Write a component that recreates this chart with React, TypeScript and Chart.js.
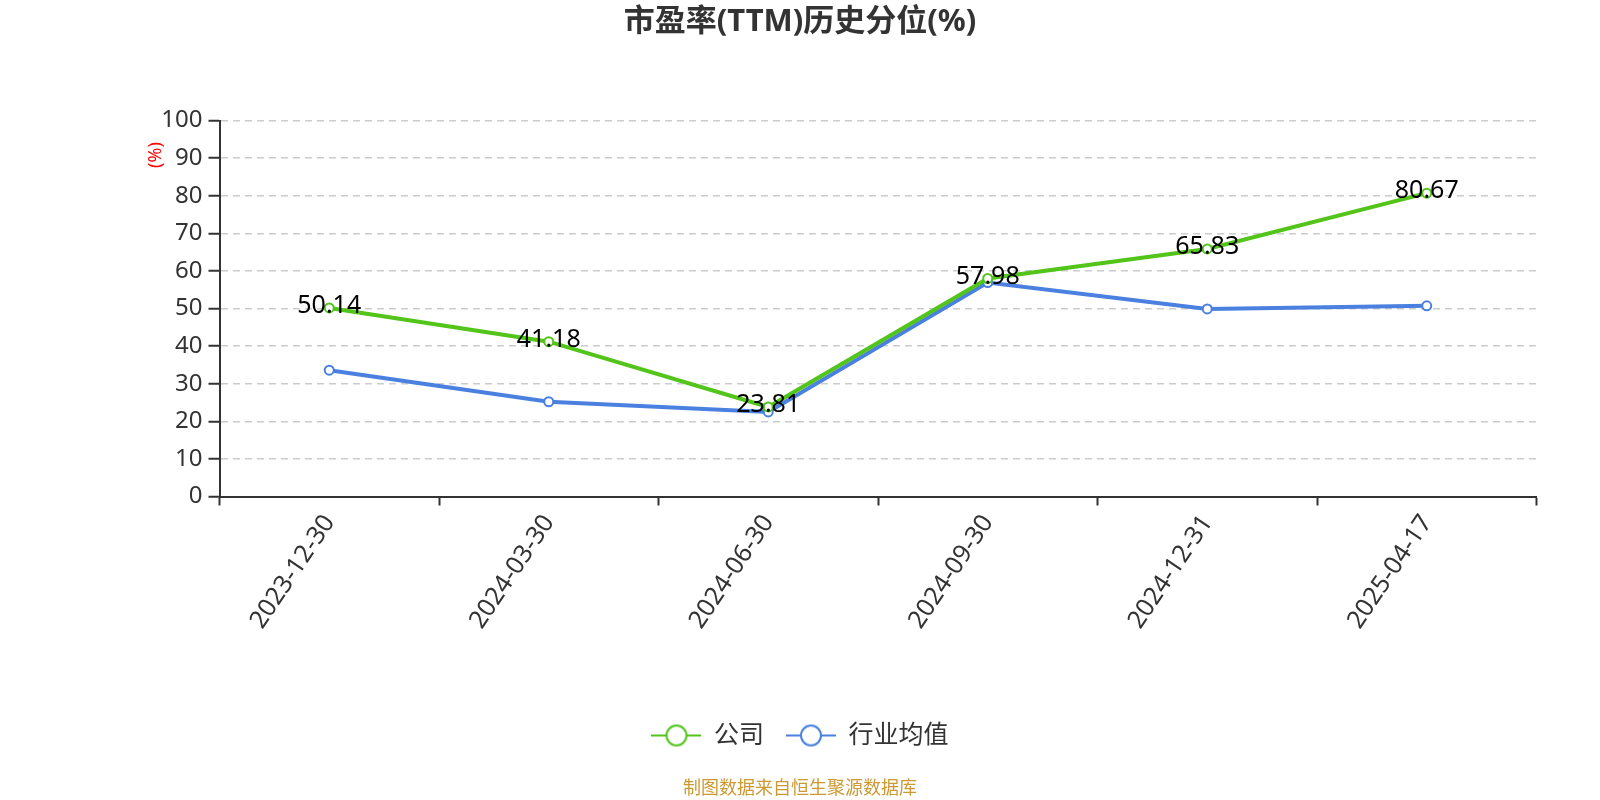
import React, { useEffect, useRef } from "react";
import { Chart, registerables } from "chart.js";

Chart.register(...registerables);

const categories = ["2023-12-30", "2024-03-30", "2024-06-30", "2024-09-30", "2024-12-31", "2025-04-17"];
const companyValues = [50.14, 41.18, 23.81, 57.98, 65.83, 80.67];
const industryValues = [33.6, 25.2, 22.5, 56.9, 49.9, 50.7];
const seriesNames = ["公司", "行业均值"];
const titleText = "市盈率(TTM)历史分位(%)";
const yAxisTitle = "(%)";
const sourceText = "制图数据来自恒生聚源数据库";

const GREEN = "#52C41A";
const BLUE = "#4A80E0";
const FONT = "'Noto Sans', 'Noto Sans CJK SC', sans-serif";

function legendIcon(color: string): HTMLCanvasElement {
  const c = document.createElement("canvas");
  c.width = 50;
  c.height = 26;
  const ctx = c.getContext("2d")!;
  ctx.strokeStyle = color;
  ctx.lineWidth = 2;
  ctx.beginPath();
  ctx.moveTo(0, 13);
  ctx.lineTo(50, 13);
  ctx.stroke();
  ctx.beginPath();
  ctx.arc(25, 13, 10, 0, Math.PI * 2);
  ctx.fillStyle = "#fff";
  ctx.fill();
  ctx.stroke();
  return c;
}

const labelPlugin = {
  id: "valueLabels",
  afterDatasetsDraw(chart: any) {
    const ctx = chart.ctx;
    const meta = chart.getDatasetMeta(0);
    ctx.save();
    ctx.font = `25px ${FONT}`;
    ctx.fillStyle = "#000";
    ctx.textAlign = "center";
    ctx.textBaseline = "middle";
    meta.data.forEach((pt: any, i: number) => {
      ctx.fillText(companyValues[i].toFixed(2), pt.x, pt.y - 2);
    });
    ctx.restore();
  },
};

const yTitlePlugin = {
  id: "yTitle",
  afterDraw(chart: any) {
    const ctx = chart.ctx;
    ctx.save();
    ctx.translate(156, 155);
    ctx.rotate(-Math.PI / 2);
    ctx.font = `18px ${FONT}`;
    ctx.fillStyle = "#ff0000";
    ctx.textAlign = "center";
    ctx.textBaseline = "middle";
    ctx.fillText(yAxisTitle, 0, 0);
    ctx.restore();
  },
};

export default function App() {
  const ref = useRef<HTMLCanvasElement>(null);
  useEffect(() => {
    document.body.style.margin = "0";
    document.body.style.overflow = "hidden";
    const icons = [legendIcon(GREEN), legendIcon(BLUE)];
    const chart = new Chart(ref.current!, {
      type: "line",
      data: {
        labels: categories,
        datasets: [
          {
            label: seriesNames[0],
            data: companyValues,
            borderColor: GREEN,
            backgroundColor: "#fff",
            borderWidth: 4,
            pointRadius: 4.5,
            pointBorderWidth: 2,
            pointBackgroundColor: "#fff",
            pointBorderColor: GREEN,
            tension: 0,
          },
          {
            label: seriesNames[1],
            data: industryValues,
            borderColor: BLUE,
            backgroundColor: "#fff",
            borderWidth: 4,
            pointRadius: 4.5,
            pointBorderWidth: 2,
            pointBackgroundColor: "#fff",
            pointBorderColor: BLUE,
            tension: 0,
            yAxisID: "y",
          },
        ],
      },
      options: {
        animation: false,
        responsive: false,
        devicePixelRatio: 1,
        layout: { padding: 0 },
        plugins: {
          tooltip: { enabled: false },
          title: {
            display: true,
            text: titleText,
            color: "#333",
            font: { family: FONT, size: 31, weight: "bold" },
            padding: { top: 4, bottom: 79.3 },
          },
          subtitle: {
            display: true,
            position: "bottom",
            text: sourceText,
            color: "#CC9933",
            font: { family: FONT, size: 18 },
            padding: { top: 19.7, bottom: 0.7 },
          },
          legend: {
            position: "bottom",
            labels: {
              usePointStyle: true,
              pointStyleWidth: 50,
              padding: 22,
              color: "#333",
              font: { family: FONT, size: 25 },
              generateLabels: (chart: any) =>
                chart.data.datasets.map((ds: any, i: number) => ({
                  text: ds.label,
                  pointStyle: icons[i],
                  fillStyle: "#fff",
                  strokeStyle: ds.borderColor,
                  lineWidth: 0,
                  fontColor: "#333",
                  hidden: false,
                  datasetIndex: i,
                })),
            },
          },
        },
        scales: {
          x: {
            offset: true,
            afterFit: (s: any) => {
              s.height = 204.5;
            },
            grid: {
              offset: true,
              drawOnChartArea: false,
              drawTicks: true,
              tickLength: 9,
              tickColor: "#333",
              tickWidth: 2,
            },
            border: { display: true, color: "#333", width: 2 },
            ticks: {
              color: "#333",
              font: { family: FONT, size: 25 },
              maxRotation: 56,
              minRotation: 56,
              padding: 4,
              autoSkip: false,
            },
          },
          y: {
            min: 0,
            max: 100,
            afterFit: (s: any) => {
              s.width = 219.5;
            },
            grid: {
              color: "#cccccc",
              lineWidth: 1.5,
              drawTicks: true,
              tickLength: 11,
              tickColor: "#333",
              tickWidth: 2,
              tickBorderDash: [],
            } as any,
            border: { display: true, color: "#333", width: 2, dash: [7, 5] },
            ticks: {
              stepSize: 10,
              color: "#333",
              font: { family: FONT, size: 24 },
              padding: 6,
            },
          },
          yRight: {
            position: "right",
            display: true,
            min: 0,
            max: 100,
            afterFit: (s: any) => {
              s.width = 63.5;
            },
            grid: { display: false, drawOnChartArea: false, drawTicks: false },
            border: { display: false },
            ticks: { display: false },
          },
        },
      } as any,
      plugins: [labelPlugin, yTitlePlugin],
    });
    return () => chart.destroy();
  }, []);
  return (
    <div style={{ width: 1600, height: 800, position: "relative", background: "#fff" }}>
      <canvas ref={ref} width={1600} height={800} style={{ width: 1600, height: 800, display: "block" }} />
    </div>
  );
}
